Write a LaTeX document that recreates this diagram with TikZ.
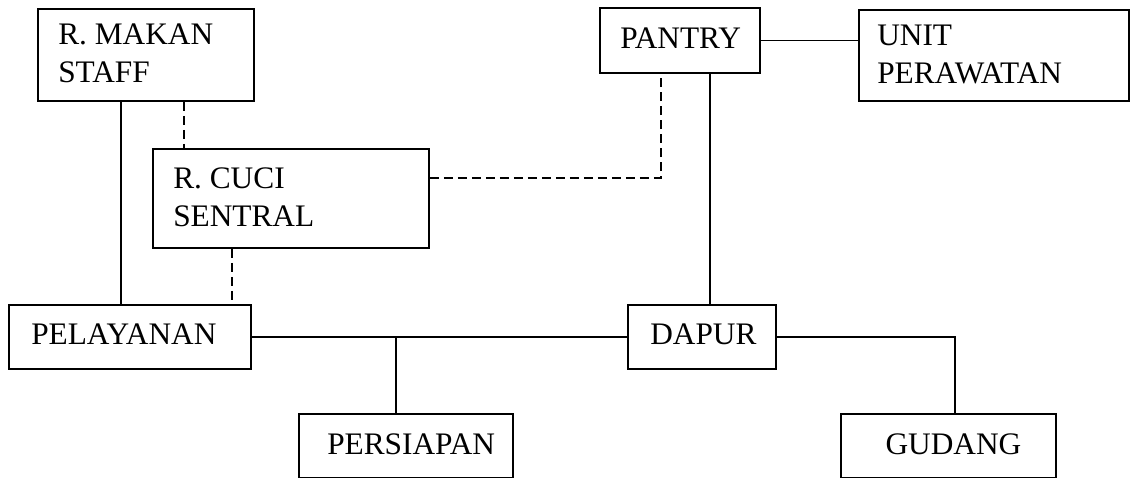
\documentclass[tikz,border=0pt]{standalone}
\usepackage{fontspec}
\setmainfont{Liberation Serif}
\begin{document}
\begin{tikzpicture}[x=0.75pt,y=-0.75pt,
  room/.style={draw,line width=1.4pt,inner sep=0pt,anchor=north west},
  lbl/.style={anchor=west,align=left,inner sep=0pt,font=\fontsize{23.5}{28.5}\selectfont},
  link/.style={line width=1.3pt},
  dashlink/.style={line width=1.3pt,dash pattern=on 6.5pt off 4pt}]
\useasboundingbox (0,0) rectangle (1133,478);

% rooms
\node[room,minimum width=162pt,minimum height=69pt]    (rm) at (37,8)   {};
\node[room,minimum width=120pt,minimum height=48.75pt] (pa) at (599,7)  {};
\node[room,minimum width=202.5pt,minimum height=68.25pt](up) at (858,9) {};
\node[room,minimum width=207pt,minimum height=74.25pt] (rc) at (152,148) {};
\node[room,minimum width=181.5pt,minimum height=48pt]  (pl) at (8,304)  {};
\node[room,minimum width=111pt,minimum height=48pt]    (da) at (627,304) {};
\node[room,minimum width=160.5pt,minimum height=48pt]  (ps) at (298,413) {};
\node[room,minimum width=161.25pt,minimum height=48pt] (gu) at (840,413) {};

% room names
\node[lbl] (rmt) at ([xshift=15.75pt,yshift=1pt]rm.west) {R. MAKAN\\STAFF};
\node[lbl] (pat) at ([xshift=15.75pt,yshift=1.5pt]pa.west) {PANTRY};
\node[lbl] (upt) at ([xshift=14.25pt,yshift=1pt]up.west) {UNIT\\PERAWATAN};
\node[lbl] (rct) at ([xshift=15.75pt,yshift=1pt]rc.west) {R. CUCI\\SENTRAL};
\node[lbl] (plt) at ([xshift=17.25pt,yshift=2pt]pl.west) {PELAYANAN};
\node[lbl] (dat) at ([xshift=17.25pt,yshift=2pt]da.west) {DAPUR};
\node[lbl] (pst) at ([xshift=21.75pt,yshift=1pt]ps.west) {PERSIAPAN};
\node[lbl] (gut) at ([xshift=34pt,yshift=1pt]gu.west) {GUDANG};

% solid connections
\draw[link] (121,0 |- rm.south) -- (121,0 |- pl.north);
\draw[link] (pa.east) -- (pa.east -| up.west);
\draw[link] (710,0 |- pa.south) -- (710,0 |- da.north);
\draw[link] (pl.east) -- (da.west);
\draw[link] (396,0 |- pl.east) -- (396,0 |- ps.north);
\draw[link] (da.east) -| (955,0 |- gu.north);

% dashed connections
\draw[dashlink] (184,0 |- rm.south) -- (184,0 |- rc.north);
\draw[dashlink] (232,0 |- rc.south) -- (232,0 |- pl.north);
\draw[dashlink] (rc.east |- 0,178) -| (661,0 |- pa.south);
\end{tikzpicture}
\end{document}
